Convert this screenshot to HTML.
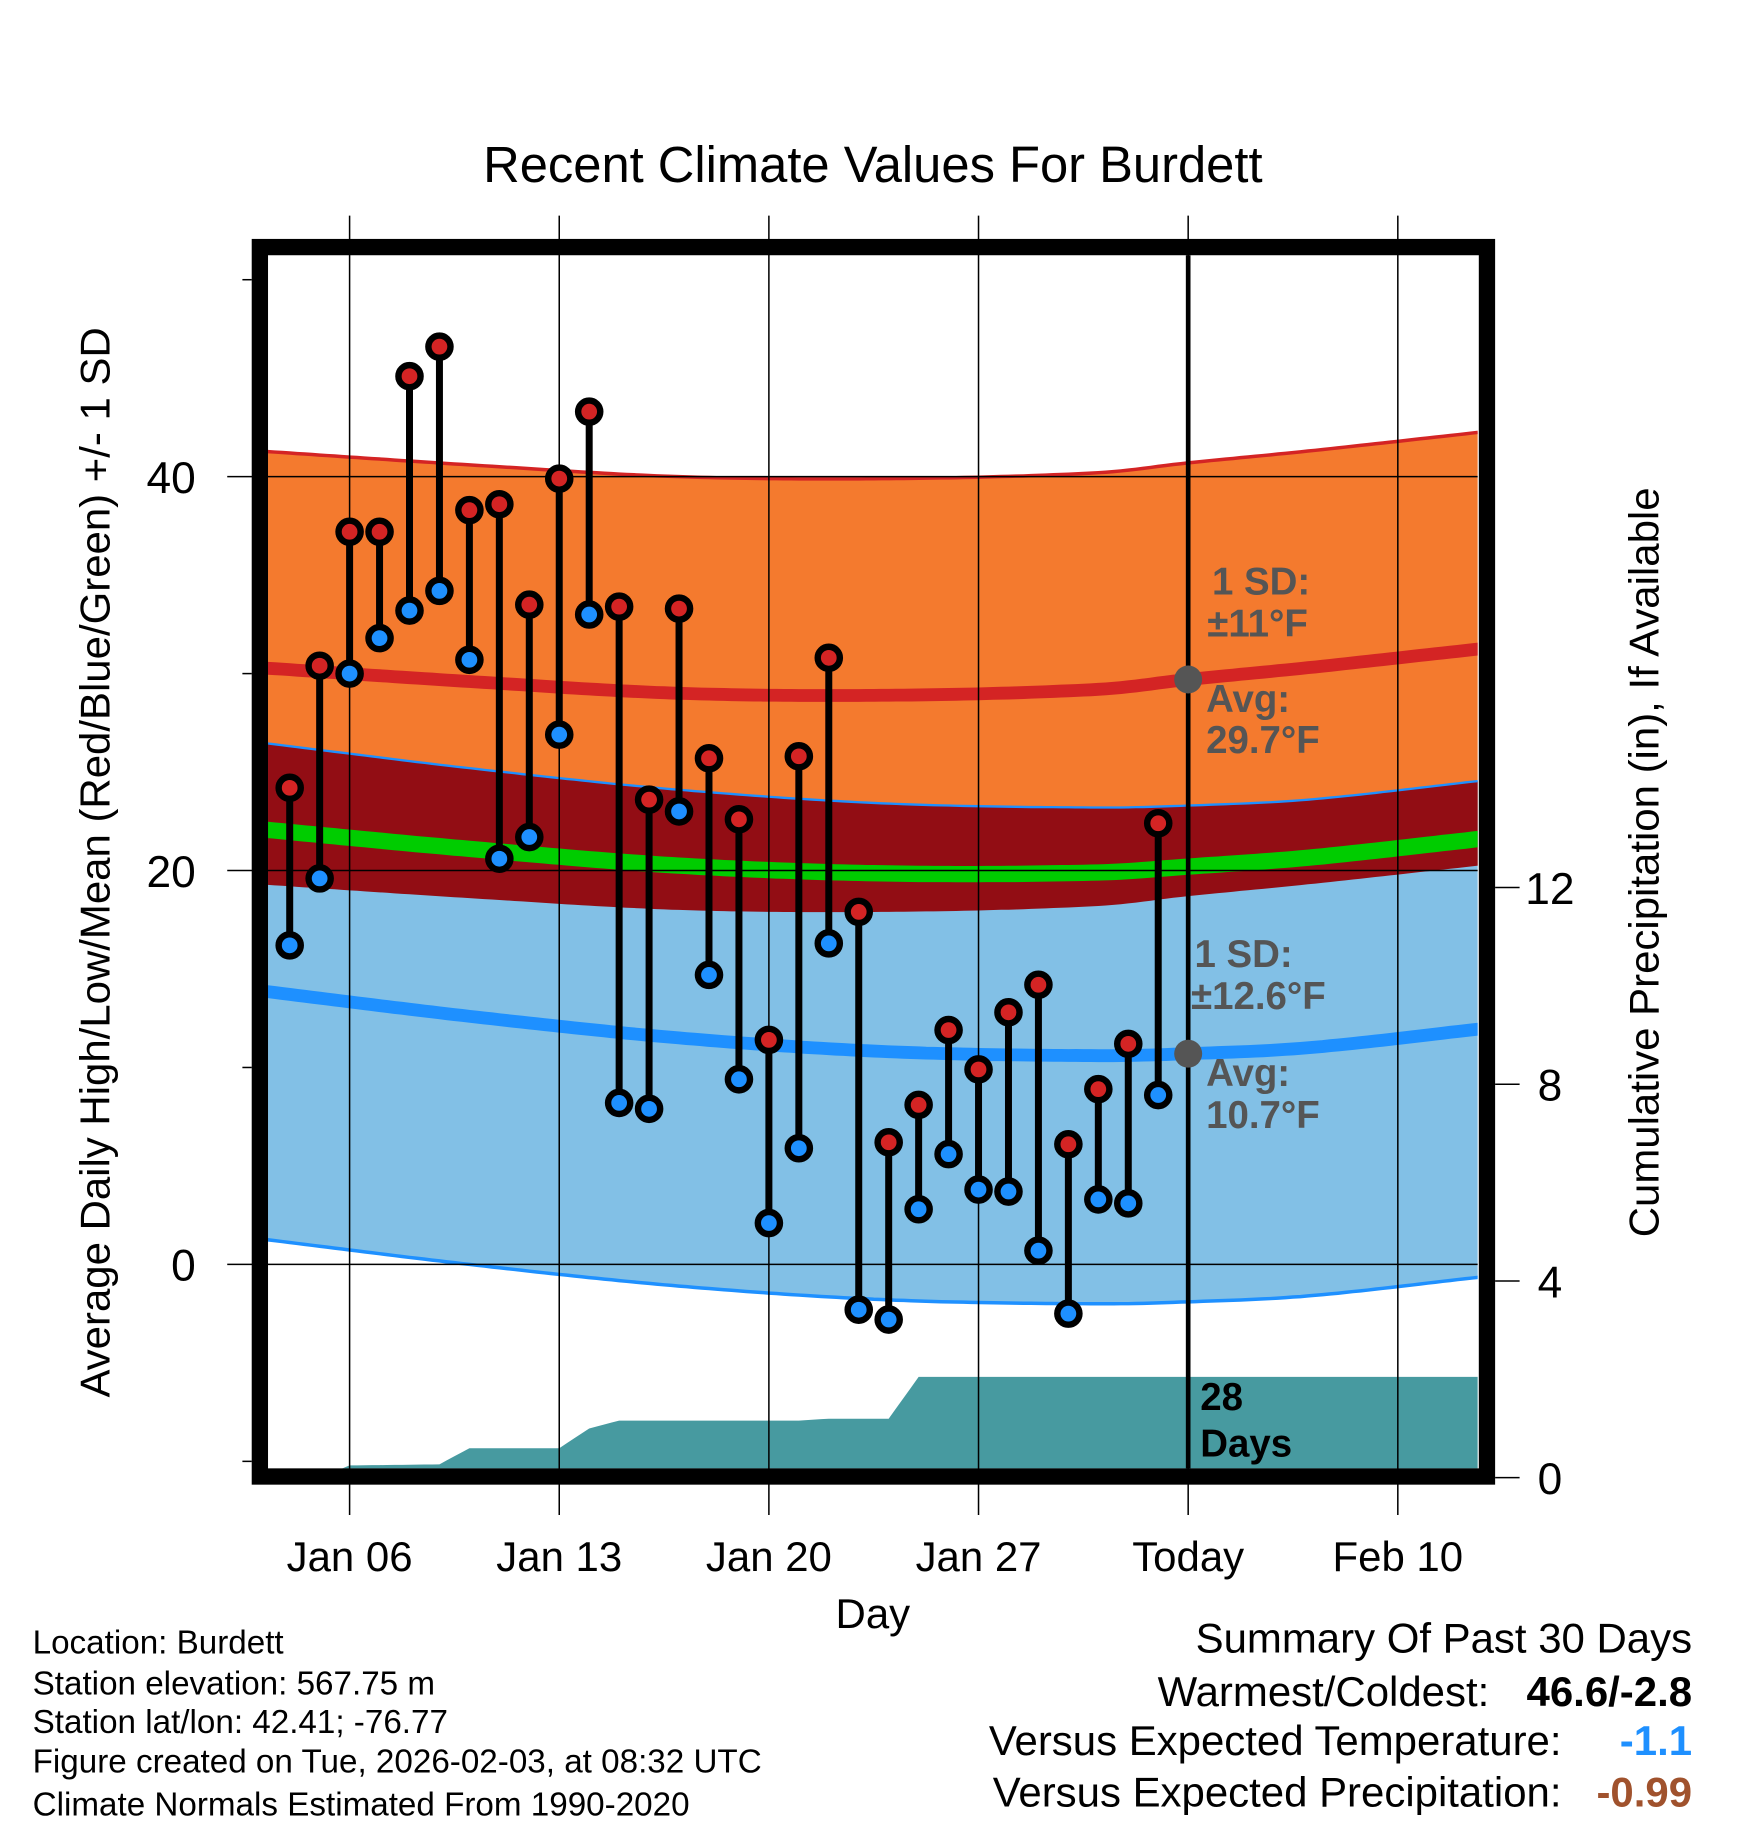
<!DOCTYPE html>
<html><head><meta charset="utf-8"><style>
html,body{margin:0;padding:0;background:#fff}
svg{display:block}
text{font-family:"Liberation Sans",Arial,sans-serif}
</style></head><body>
<svg id="chart" width="1748" height="1828" viewBox="0 0 1500 1568.6" xmlns="http://www.w3.org/2000/svg">
<defs><clipPath id="plotclip"><rect x="230" y="219" width="1038" height="1041"/></clipPath></defs>
<text x="749" y="156" font-size="43.5" text-anchor="middle">Recent Climate Values For Burdett</text>
<g id="bands" clip-path="url(#plotclip)"></g>
<g id="precip" clip-path="url(#plotclip)"></g>
<g id="grid"></g>
<g id="marks"></g>
<g id="axes"></g>
<g font-weight="bold" font-size="33" fill="#555">
<text x="1040" y="510">1 SD:</text><text x="1036" y="546">±11°F</text>
<text x="1035" y="611">Avg:</text><text x="1035" y="646">29.7°F</text>
<text x="1025" y="830">1 SD:</text><text x="1022" y="866">±12.6°F</text>
<text x="1035" y="932">Avg:</text><text x="1035" y="968">10.7°F</text>
<text x="1030" y="1210" fill="#000">28</text><text x="1030" y="1250" fill="#000">Days</text>
</g>
<text transform="translate(94,740) rotate(-90)" font-size="36" text-anchor="middle">Average Daily High/Low/Mean (Red/Blue/Green) +/- 1 SD</text>
<text transform="translate(1423,740) rotate(-90)" font-size="36" text-anchor="middle">Cumulative Precipitation (in), If Available</text>
<text x="749" y="1397" font-size="36" text-anchor="middle">Day</text>
<g font-size="28.5">
<text x="28" y="1419">Location: Burdett</text>
<text x="28" y="1454">Station elevation: 567.75 m</text>
<text x="28" y="1487">Station lat/lon: 42.41; -76.77</text>
<text x="28" y="1521">Figure created on Tue, 2026-02-03, at 08:32 UTC</text>
<text x="28" y="1558">Climate Normals Estimated From 1990-2020</text>
</g>
<g font-size="36" text-anchor="end">
<text x="1452" y="1418">Summary Of Past 30 Days</text>
<text x="1278" y="1464">Warmest/Coldest:</text><text x="1452" y="1464" font-weight="bold">46.6/-2.8</text>
<text x="1340" y="1506">Versus Expected Temperature:</text><text x="1452" y="1506" font-weight="bold" fill="#1e90ff">-1.1</text>
<text x="1340" y="1550">Versus Expected Precipitation:</text><text x="1452" y="1550" font-weight="bold" fill="#a0522d">-0.99</text>
</g>
</svg>
<script>
// data (day index 0 = Jan 04)
const highs = [24.2,30.4,37.2,37.2,45.1,46.6,38.3,38.6,33.5,39.9,43.3,33.4,23.6,33.3,25.7,22.6,11.4,25.8,30.8,17.9,6.2,8.1,11.9,9.9,12.8,14.2,6.1,8.9,11.2,22.4];
const lows = [16.2,19.6,30.0,31.8,33.2,34.2,30.7,20.6,21.7,26.9,33.0,8.2,7.9,23.0,14.7,9.4,2.1,5.9,16.3,-2.3,-2.8,2.8,5.6,3.8,3.7,0.7,-2.5,3.3,3.1,8.6];
const normDays = [-1,6,13,20,27,30,34,40];
const normHigh = [30.3,29.6,29.0,28.9,29.2,29.7,30.3,31.3];
const normLow = [13.9,12.6,11.5,10.8,10.6,10.7,11.0,12.0];
const highSD = 11, lowSD = 12.6;
const precipDays = [-1,0,1,2,5,6,9,10,11,17,18,20,21,40];
const precipCum = [0,0,0,0.25,0.27,0.6,0.6,1.0,1.16,1.16,1.2,1.2,2.05,2.05];
const yTicks = [0,20,40];
const yMinor = [-10,10,30,50];
const y2Ticks = [0,4,8,12];
const xTickDays = [2,9,16,23,30,37];
const xTickLabels = ["Jan 06","Jan 13","Jan 20","Jan 27","Today","Feb 10"];

const NS="http://www.w3.org/2000/svg";
const X = d => 300 + (d-2)*25.7;
const Y = t => 1085 - t*16.9;
const YP = p => 1268 - p*42.2;
function mk(parent,tag,attrs){const e=document.createElementNS(NS,tag);for(const k in attrs)e.setAttribute(k,attrs[k]);parent.appendChild(e);return e;}
function interp(xs,ys,d){if(d<=xs[0])return ys[0];for(let i=1;i<xs.length;i++){if(d<=xs[i]){const t=(d-xs[i-1])/(xs[i]-xs[i-1]);return ys[i-1]+t*(ys[i]-ys[i-1]);}}return ys[ys.length-1];}
// Catmull-Rom style smooth interpolation (non-uniform via slopes)
function smooth(xs,ys,d){
  const n=xs.length;
  if(d<=xs[0])return ys[0]; if(d>=xs[n-1])return ys[n-1];
  const m=ys.map((y,i)=>{if(i===0)return (ys[1]-ys[0])/(xs[1]-xs[0]);if(i===n-1)return (ys[n-1]-ys[n-2])/(xs[n-1]-xs[n-2]);return (ys[i+1]-ys[i-1])/(xs[i+1]-xs[i-1]);});
  for(let i=1;i<n;i++){if(d<=xs[i]){const h=xs[i]-xs[i-1],t=(d-xs[i-1])/h;const t2=t*t,t3=t2*t;
    return (2*t3-3*t2+1)*ys[i-1]+(t3-2*t2+t)*h*m[i-1]+(-2*t3+3*t2)*ys[i]+(t3-t2)*h*m[i];}}
  return ys[n-1];
}
const samples=[];for(let d=-1;d<=40;d+=0.25)samples.push(d);
const hm=d=>smooth(normDays,normHigh,d), lm=d=>smooth(normDays,normLow,d);
function band(fn1,fn2){let p="";samples.forEach((d,i)=>{p+=(i?"L":"M")+X(d).toFixed(1)+","+Y(fn1(d)).toFixed(1);});for(let i=samples.length-1;i>=0;i--){const d=samples[i];p+="L"+X(d).toFixed(1)+","+Y(fn2(d)).toFixed(1);}return p+"Z";}
function line(fn){let p="";samples.forEach((d,i)=>{p+=(i?"L":"M")+X(d).toFixed(1)+","+Y(fn(d)).toFixed(1);});return p;}
const B=document.getElementById("bands");
let e;
e=mk(B,"path",{d:band(d=>hm(d)+highSD,d=>hm(d)-highSD),fill:"#f47a2e"});


e=mk(B,"path",{d:band(d=>lm(d)+lowSD,d=>lm(d)-lowSD),fill:"#82c0e6"});


e=mk(B,"path",{d:band(d=>lm(d)+lowSD,d=>hm(d)-highSD),fill:"#920d14"});


mk(B,"path",{d:line(d=>hm(d)+highSD),stroke:"#d42424",fill:"none","stroke-width":3});
mk(B,"path",{d:line(d=>lm(d)+lowSD),stroke:"#1e90ff",fill:"none","stroke-width":2});
mk(B,"path",{d:line(d=>lm(d)-lowSD),stroke:"#1e90ff",fill:"none","stroke-width":3});
e=mk(B,"path",{d:line(hm),stroke:"#d42424",fill:"none","stroke-width":11});


e=mk(B,"path",{d:line(lm),stroke:"#1e90ff",fill:"none","stroke-width":11});


e=mk(B,"path",{d:line(d=>(hm(d)+lm(d))/2),stroke:"#00cc00",fill:"none","stroke-width":14});


// precip
const P=document.getElementById("precip");
let pp="M"+X(-1)+","+YP(0);
samples.forEach(d=>{pp+="L"+X(d).toFixed(1)+","+YP(interp(precipDays,precipCum,d)).toFixed(1);});
pp+="L"+X(40)+","+YP(0)+"Z";
e=mk(P,"path",{d:pp,fill:"#479aa0"});


// grid
const G=document.getElementById("grid");
xTickDays.forEach(d=>{mk(G,"line",{x1:X(d),x2:X(d),y1:185,y2:1300,stroke:"#000","stroke-width":1.3});});
yTicks.forEach(t=>{mk(G,"line",{x1:195,x2:1268,y1:Y(t),y2:Y(t),stroke:"#000","stroke-width":1.3});});
// today line
e=mk(G,"line",{x1:X(30),x2:X(30),y1:219,y2:1260,stroke:"#000","stroke-width":4});


// marks
const M=document.getElementById("marks");
highs.forEach((h,i)=>{
  const x=X(i);
  const s=mk(M,"line",{x1:x,x2:x,y1:Y(h),y2:Y(lows[i]),stroke:"#000","stroke-width":6});
  
  
  const c1=mk(M,"circle",{cx:x,cy:Y(h),r:9.5,fill:"#d42424",stroke:"#000","stroke-width":5.5});
  
  
  const c2=mk(M,"circle",{cx:x,cy:Y(lows[i]),r:9.5,fill:"#1e90ff",stroke:"#000","stroke-width":5.5});
  
  
});
// normal dots
mk(M,"circle",{cx:X(30),cy:Y(normHigh[5]),r:12,fill:"#555"});
mk(M,"circle",{cx:X(30),cy:Y(normLow[5]),r:12,fill:"#555"});
// axes
const A=document.getElementById("axes");
e=mk(A,"rect",{x:223,y:212,width:1053,height:1055,fill:"none",stroke:"#000","stroke-width":14});


yTicks.forEach(t=>{
  const tx=mk(A,"text",{x:168,y:Y(t)+14,"font-size":38,"text-anchor":"end"});tx.textContent=t;
  
  
});
yMinor.forEach(t=>{mk(A,"line",{x1:208,x2:216,y1:Y(t),y2:Y(t),stroke:"#000","stroke-width":1.3});});
y2Ticks.forEach(p=>{
  mk(A,"line",{x1:1283,x2:1304,y1:YP(p),y2:YP(p),stroke:"#000","stroke-width":1.3});
  const tx=mk(A,"text",{x:1330,y:YP(p)+14,"font-size":38,"text-anchor":"middle"});tx.textContent=p;
  
  
});
xTickDays.forEach((d,i)=>{
  const tx=mk(A,"text",{x:X(d),y:1348,"font-size":36,"text-anchor":"middle"});tx.textContent=xTickLabels[i];
  
  
});
</script>
</body></html>
